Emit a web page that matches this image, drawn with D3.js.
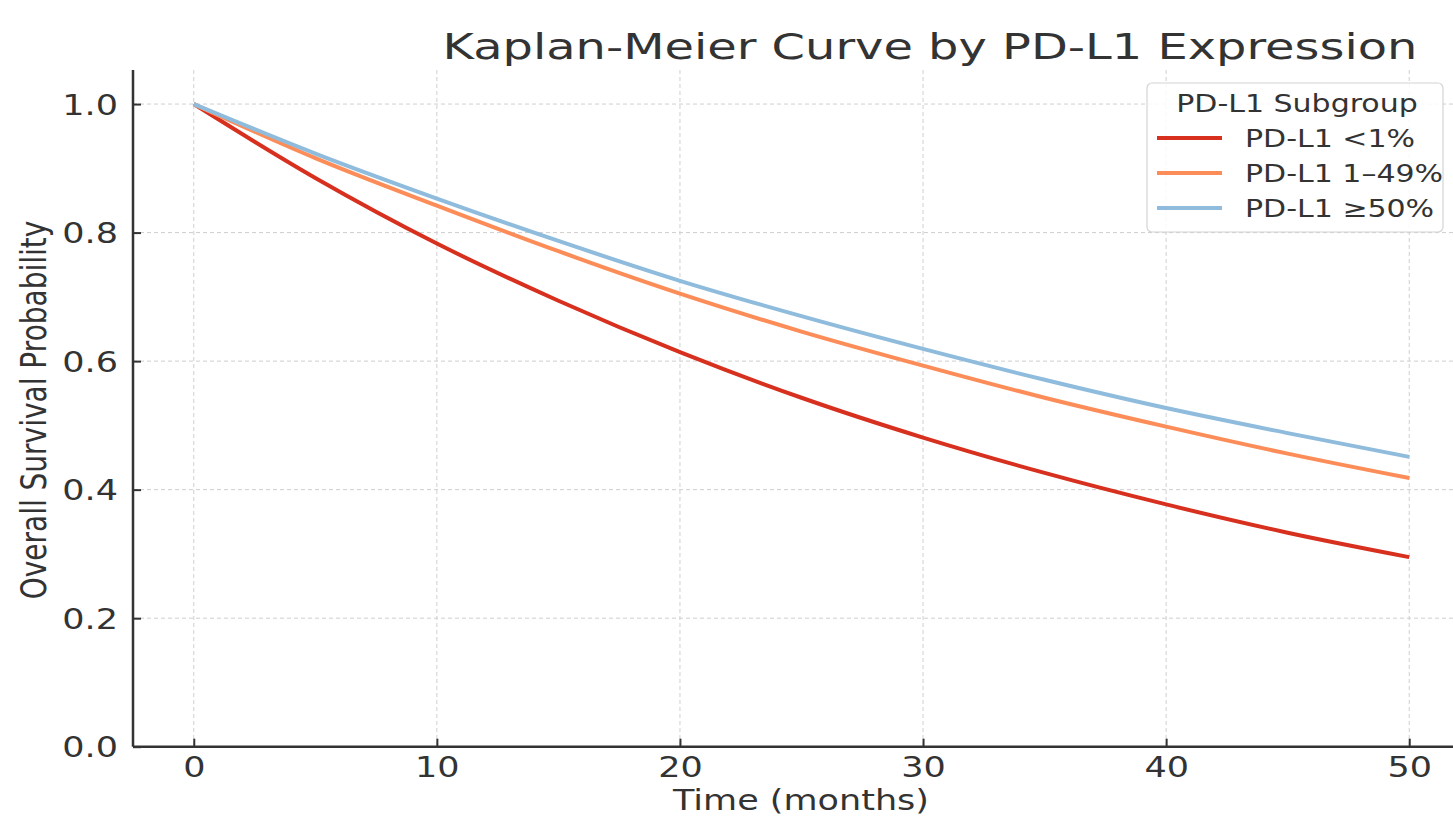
<!DOCTYPE html>
<html>
<head>
<meta charset="utf-8">
<script src="https://cdn.jsdelivr.net/npm/d3@7"></script>
<style>
  html, body { margin: 0; padding: 0; background: #fff; }
  svg { display: block; font-family: "DejaVu Sans", sans-serif; }
</style>
</head>
<body>
<svg id="chart" width="1453" height="819"></svg>
<script>
// Survival time points (months) and overall survival probability per PD-L1 subgroup
const months      = [0, 5, 10, 15, 20, 25, 30, 35, 40, 45, 50];
const survLt1     = [1.0, 0.885, 0.783, 0.694, 0.614, 0.543, 0.481, 0.426, 0.377, 0.333, 0.295];
const surv1to49   = [1.0, 0.916, 0.842, 0.771, 0.705, 0.646, 0.593, 0.543, 0.498, 0.456, 0.418];
const survGe50    = [1.0, 0.923, 0.853, 0.787, 0.725, 0.670, 0.619, 0.571, 0.527, 0.488, 0.451];

const seriesNames  = ["PD-L1 <1%", "PD-L1 1\u201349%", "PD-L1 \u226550%"];
const seriesColors = ["#d7301f", "#fc8d59", "#8fbcdc"];
const xTicks = [0, 10, 20, 30, 40, 50];
const yTicks = [0.0, 0.2, 0.4, 0.6, 0.8, 1.0];

const titleText  = "Kaplan-Meier Curve by PD-L1 Expression";
const xLabelText = "Time (months)";
const yLabelText = "Overall Survival Probability";
const legendTitle = "PD-L1 Subgroup";

const svg = d3.select("#chart");
const textColor = "#333333";
const sx = 1.25; // horizontal glyph stretch used for all labels

// plot area
const plotLeft = 133, plotTop = 70, plotBottom = 746.7, plotRight = 1470;
const x = d3.scaleLinear().domain([-2.5, 52.5]).range([plotLeft, plotRight]);
const y = d3.scaleLinear().domain([0, 1.053]).range([plotBottom, plotTop]);

const plot = svg.append("g");

// grid
const grid = plot.append("g").attr("stroke", "#cfcfcf").attr("stroke-width", 1)
  .attr("stroke-dasharray", "4,3");
grid.selectAll("line.v").data(xTicks).join("line")
  .attr("class", "v")
  .attr("x1", d => x(d)).attr("x2", d => x(d))
  .attr("y1", plotTop).attr("y2", plotBottom);
grid.selectAll("line.h").data(yTicks.filter(d => d > 0)).join("line")
  .attr("class", "h")
  .attr("x1", plotLeft).attr("x2", plotRight)
  .attr("y1", d => y(d)).attr("y2", d => y(d));

// curves
const allSeries = [survLt1, surv1to49, survGe50];
const line = d3.line()
  .x((d, i) => x(months[i]))
  .y(d => y(d))
  .curve(d3.curveMonotoneX);

plot.selectAll("path.curve").data(allSeries).join("path")
  .attr("class", "curve")
  .attr("d", d => line(d))
  .attr("fill", "none")
  .attr("stroke", (d, i) => seriesColors[i])
  .attr("stroke-width", 4)
  .attr("stroke-linejoin", "round")
  .attr("stroke-linecap", "butt");

// axes via d3 axis generators (inward ticks)
const xAxis = d3.axisBottom(x).tickValues(xTicks).tickSizeInner(-8).tickSizeOuter(0)
  .tickFormat(d3.format("d"));
const yAxis = d3.axisLeft(y).tickValues(yTicks).tickSizeInner(-8).tickSizeOuter(0)
  .tickFormat(d3.format(".1f"));

const gx = svg.append("g").attr("transform", `translate(0,${plotBottom})`).call(xAxis);
const gy = svg.append("g").attr("transform", `translate(${plotLeft},0)`).call(yAxis);

[gx, gy].forEach(g => {
  g.select(".domain").attr("stroke", "#333").attr("stroke-width", 2.5);
  g.selectAll(".tick line").attr("stroke", "#333").attr("stroke-width", 2);
  g.selectAll(".tick text").attr("fill", textColor)
    .attr("font-family", "DejaVu Sans").attr("font-size", 28);
});
gx.select(".domain").attr("d", `M${plotLeft},0H${plotRight}`);
gy.select(".domain").attr("d", `M0,${plotTop}V${plotBottom}`);

gx.selectAll(".tick text")
  .attr("y", 0).attr("dy", 0)
  .attr("transform", `translate(0,30) scale(${sx},1)`);
gy.selectAll(".tick text")
  .attr("x", 0).attr("dy", "0.36em")
  .attr("text-anchor", "end")
  .attr("transform", `translate(-15,0) scale(${sx},1)`);

// title
const title = svg.append("text")
  .attr("fill", textColor).attr("font-size", 36)
  .attr("text-anchor", "middle")
  .text(titleText);
const tw = title.node().getComputedTextLength();
title.attr("transform", `translate(930,59) scale(${975 / tw},1)`);

// axis labels
svg.append("text")
  .attr("fill", textColor).attr("font-size", 28)
  .attr("text-anchor", "middle")
  .attr("transform", `translate(801,810) scale(${sx},1)`)
  .text(xLabelText);

svg.append("text")
  .attr("fill", textColor).attr("font-size", 28)
  .attr("text-anchor", "middle")
  .attr("transform", `translate(46,410) scale(${sx},1) rotate(-90)`)
  .text(yLabelText);

// legend
const lg = svg.append("g");
lg.append("rect")
  .attr("x", 1147).attr("y", 83).attr("width", 296).attr("height", 149)
  .attr("rx", 5).attr("fill", "#ffffff").attr("fill-opacity", 0.85)
  .attr("stroke", "#d4d4d4").attr("stroke-width", 1.2);
lg.append("text")
  .attr("fill", textColor).attr("font-size", 24)
  .attr("text-anchor", "middle")
  .attr("transform", `translate(1297,112) scale(${sx},1)`)
  .text(legendTitle);
const rowY = [138, 173, 208];
seriesNames.forEach((name, i) => {
  lg.append("line")
    .attr("x1", 1157).attr("x2", 1222)
    .attr("y1", rowY[i]).attr("y2", rowY[i])
    .attr("stroke", seriesColors[i]).attr("stroke-width", 4);
  lg.append("text")
    .attr("fill", textColor).attr("font-size", 24)
    .attr("transform", `translate(1245,${rowY[i] + 9}) scale(${sx},1)`)
    .text(name);
});
</script>
</body>
</html>
